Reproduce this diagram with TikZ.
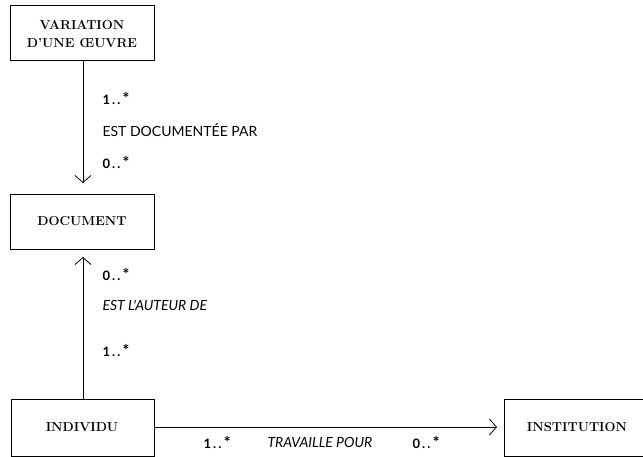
\documentclass[tikz,border=0pt]{standalone}
\usepackage{fontspec}
\newfontfamily\labelfont{Lato}
\usetikzlibrary{arrows.meta}
% multiplicity text with a larger star
\newcommand{\multtext}[1]{#1\,.\,.\,{\fontsize{16}{16}\selectfont *}}
\begin{document}
\begin{tikzpicture}[x=1pt,y=-1pt,
  classbox/.style={draw,line width=0.8pt,font=\bfseries\fontsize{13}{17.5}\selectfont,align=center},
  assoc/.style={line width=0.8pt},
  nav/.style={assoc,-{Straight Barb[length=7pt,width=16pt,line width=0.8pt]}},
  mult/.style={font=\labelfont\bfseries\fontsize{13}{15}\selectfont,anchor=west},
  role/.style={font=\labelfont\fontsize{14}{16}\selectfont,anchor=west},
  rolei/.style={role,font=\labelfont\itshape\fontsize{14}{16}\selectfont}]
\useasboundingbox (0,0) rectangle (643,456);
% classes
\draw[line width=0.8pt] (10,5) rectangle (154,60);
\node[classbox,draw=none] (var) at (82,34) {VARIATION\\D'UNE ŒUVRE};
\draw[line width=0.8pt] (10,194) rectangle (154,249);
\node[classbox,draw=none] (doc) at (82,221.5) {DOCUMENT};
\draw[line width=0.8pt] (11,399) rectangle (154,456);
\node[classbox,draw=none] (ind) at (82,427) {INDIVIDU};
\draw[line width=0.8pt] (504,399) rectangle (650,456);
\node[classbox,draw=none] (inst) at (577,427) {INSTITUTION};
% anchor points on the box edges
\coordinate (varS) at (83,60);
\coordinate (docN) at (83,183);
\coordinate (docS) at (83,257);
\coordinate (indN) at (83,399);
\coordinate (indE) at (154,427);
\coordinate (instW) at (497,427);
% associations
\draw[nav] (varS) -- (docN);
\draw[nav] (indN) -- (docS);
\draw[nav] (indE) -- (instW);
% labels
\node[mult] (m1) at (99,98) {\multtext{1}};
\node[role] (r1) at (99,130) {EST DOCUMENTÉE PAR};
\node[mult] (m2) at (99,162) {\multtext{0}};
\node[mult] (m3) at (99,274) {\multtext{0}};
\node[rolei] (r2) at (99,305) {EST L'AUTEUR DE};
\node[mult] (m4) at (99,350) {\multtext{1}};
\node[mult] (m5) at (200,442) {\multtext{1}};
\node[rolei] (r3) at (264,442) {TRAVAILLE POUR};
\node[mult] (m6) at (409,442) {\multtext{0}};
\end{tikzpicture}
\end{document}
